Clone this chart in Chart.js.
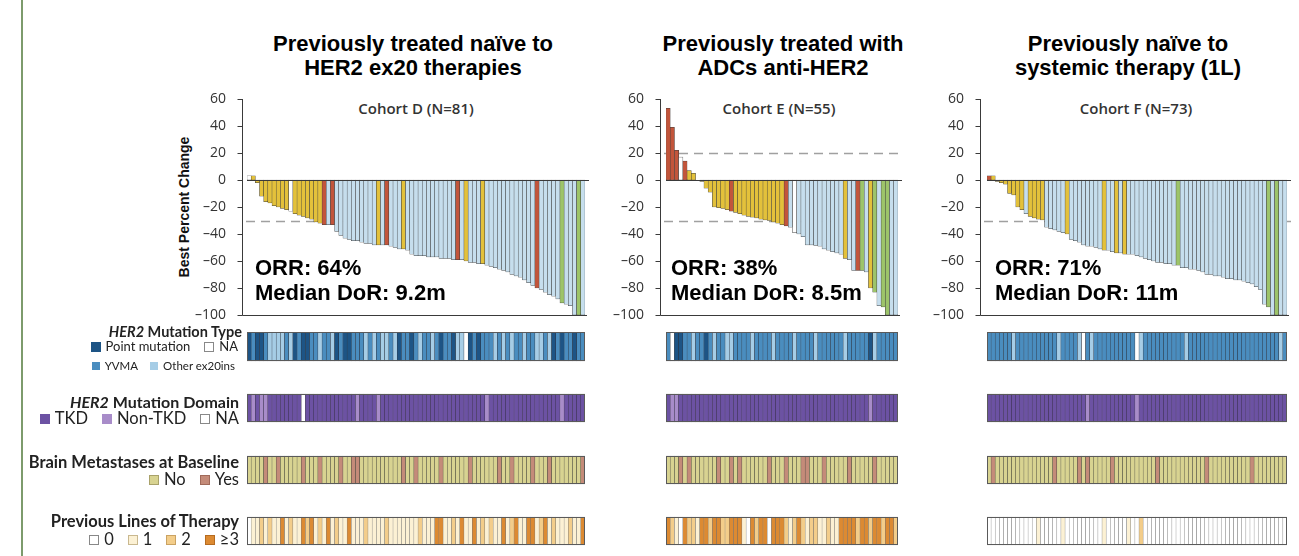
<!DOCTYPE html>
<html>
<head>
<meta charset="utf-8">
<script src="https://cdn.jsdelivr.net/npm/chart.js@4.4.1/dist/chart.umd.min.js"></script>
<style>
  html, body { margin: 0; padding: 0; background: #fff; }
  body { width: 1299px; height: 556px; position: relative; overflow: hidden; font-family: "Liberation Sans", Arial, sans-serif; }
  .abs { position: absolute; }
  canvas { position: absolute; }
  .frame { left: 21px; top: 0; width: 1.5px; height: 556px; background: #7d9b6c; }
  .title { font-weight: bold; font-size: 22px; line-height: 24px; text-align: center; width: 420px; color: #000; white-space: nowrap; }
  .cohort { font-family: "Open Sans", Lato, sans-serif; font-weight: 600; font-size: 15px; line-height: 18px; width: 200px; text-align: center; color: #333; }
  .orr { font-weight: bold; font-size: 22px; line-height: 25px; color: #000; white-space: nowrap; }
  .ytitle { font-weight: bold; font-size: 14px; width: 200px; text-align: center; transform: rotate(-90deg); color: #111; white-space: nowrap; }
  .leg { font-family: Lato, "Open Sans", sans-serif; color: #222; white-space: nowrap; text-align: right; }
  .leg b { font-weight: bold; }
  .sw { display: inline-block; width: 10px; height: 10px; border: 1px solid #888; vertical-align: middle; margin: 0 5px 2px 14px; box-sizing: border-box; }
  .sm .sw { width: 8px; height: 8px; margin: 0 5px 2px 12px; }
</style>
</head>
<body>
<div class="abs frame"></div>

<!-- panel titles -->
<div class="abs title" style="left:203px; top:32px;">Previously treated naïve to<br>HER2 ex20 therapies</div>
<div class="abs title" style="left:573px; top:32px;">Previously treated with<br>ADCs anti-HER2</div>
<div class="abs title" style="left:918px; top:32px;">Previously naïve to<br>systemic therapy (1L)</div>

<div class="abs cohort" style="left:316px; top:99px;">Cohort D (N=81)</div>
<div class="abs cohort" style="left:679px; top:99px;">Cohort E (N=55)</div>
<div class="abs cohort" style="left:1036px; top:99px;">Cohort F (N=73)</div>

<div class="abs ytitle" style="left:84px; top:199px;">Best Percent Change</div>

<canvas id="wfD"></canvas>
<canvas id="wfE"></canvas>
<canvas id="wfF"></canvas>
<canvas id="hmD"></canvas>
<canvas id="hmE"></canvas>
<canvas id="hmF"></canvas>

<div class="abs orr" style="left:255px; top:255px;">ORR: 64%<br>Median DoR: 9.2m</div>
<div class="abs orr" style="left:671px; top:255px;">ORR: 38%<br>Median DoR: 8.5m</div>
<div class="abs orr" style="left:995px; top:255px;">ORR: 71%<br>Median DoR: 11m</div>

<!-- row legends -->
<div class="abs leg" style="right:1057px; top:323px; font-size:14.5px; line-height:17px;"><b><i>HER2</i> Mutation Type</b></div>
<div class="abs leg" style="right:1061px; top:338px; font-size:13px; line-height:16px;"><span class="sw" style="background:#1d5485;border-color:#1d5485"></span>Point mutation<span class="sw" style="background:#fff"></span>NA</div>
<div class="abs leg sm" style="right:1064px; top:358px; font-size:11.5px; line-height:15px;"><span class="sw" style="background:#4a8dbf;border-color:#4a8dbf"></span>YVMA<span class="sw" style="background:#a6cde6;border-color:#a6cde6"></span>Other ex20ins</div>

<div class="abs leg" style="right:1060px; top:392px; font-size:16px; line-height:19px;"><b><i>HER2</i> Mutation Domain</b></div>
<div class="abs leg" style="right:1060px; top:409px; font-size:16.5px; line-height:19px;"><span class="sw" style="background:#6c52a3;border-color:#6c52a3"></span>TKD<span class="sw" style="background:#a88cc9;border-color:#a88cc9"></span>Non-TKD<span class="sw" style="background:#fff"></span>NA</div>

<div class="abs leg" style="right:1060px; top:453px; font-size:16.5px; line-height:19px;"><b>Brain Metastases at Baseline</b></div>
<div class="abs leg" style="right:1060px; top:470px; font-size:16.5px; line-height:19px;"><span class="sw" style="background:#d8d391;border-color:#a9a26a"></span>No<span class="sw" style="background:#c48b79;border-color:#a06a5a"></span>Yes</div>

<div class="abs leg" style="right:1060px; top:512px; font-size:16.5px; line-height:19px;"><b>Previous Lines of Therapy</b></div>
<div class="abs leg" style="right:1060px; top:530px; font-size:16.5px; line-height:19px;"><span class="sw" style="background:#fff"></span>0<span class="sw" style="background:#fcf1d4;border-color:#c9b88f"></span>1<span class="sw" style="background:#f3cd8a;border-color:#caa262"></span>2<span class="sw" style="background:#dc8a32;border-color:#b56b20"></span>≥3</div>

<script>
// ---- best percent change per patient, sorted as plotted ----
const changeD = [3, 3, -2, -12, -16, -17, -19, -20, -21, -22,
  -23, -25, -26, -27, -28, -29, -31, -32, -33, -33,
  -33, -38, -41, -43, -44, -45, -45, -46, -47, -47,
  -48, -48, -48, -48, -49, -50, -51, -51, -52, -55,
  -56, -56, -56, -57, -57, -57, -58, -58, -58, -59,
  -59, -59, -60, -61, -61, -62, -62, -63, -64, -65,
  -66, -67, -68, -70, -71, -72, -74, -76, -78, -80,
  -81, -83, -85, -86, -88, -91, -92, -93, -100, -100,
  -100];
const changeE = [53, 39, 22, 17, 14, 7, 5, 0, -1, -6,
  -9, -20, -20.5, -21, -22, -23, -24, -25, -26, -27,
  -27.5, -28, -29, -29.5, -30, -31, -32, -33, -34, -35,
  -39, -40, -42, -48, -48, -48.5, -49, -51, -52, -53,
  -54, -55, -58, -59, -67, -67, -67, -68, -80, -83,
  -93, -94, -100, -100, -100];
const changeF = [3, 3, -1, -2, -3, -10, -11, -20, -22, -25,
  -27, -28, -29, -29.5, -35, -36, -37, -38, -39, -40,
  -44, -45, -46, -48, -49, -49, -50, -51, -52, -52,
  -53, -54, -54, -55, -55, -55, -56, -57, -58, -59,
  -60, -61, -61, -62, -62, -63, -63, -65, -65, -66,
  -66, -67, -68, -70, -70, -71, -71, -72, -73, -73,
  -74, -74, -75, -76, -77, -79, -81, -92, -94, -100,
  -100, -100, -100];

// ---- bar group per patient (W, Y, R, B, G) ----
const groupD = ["WYYYYYYYYY", "WYYYYYYYRB", "RBBBBBBBBB", "BYBRBBBYBB", "BBBBBBBBBB",
  "RBYBBBYBBB", "BBBBBBBBBR", "BBBBBGBBBG", "B"].join("");
const groupE = ["RRRWRYYYYY", "YYYYYRYYYY", "YYYYYYYYRB", "WBBBBBBBBB", "BBYBBRGBYG", "BGGBB"].join("");
const groupF = ["RYYYYYYYYB", "YYYYBBBBBY", "BBBBBBBBYB", "BYBYBBBBBB", "BBBBBBGBBB",
  "BBBBBBBBBB", "BBBBBBBBGB", "GBB"].join("");

// ---- HER2 mutation type: P point mutation, Y YVMA, O other ex20ins, N NA ----
const mutTypeD = ["PYPPYOO", "OOYO", "PYPPY", "YOYYO", "PYPPY", "YYOY", "OYOOYO", "PYYPY", "OYYOY",
  "PYYPOO", "N", "PYPYY", "YOYOY", "OYYOY", "YOOYO", "PYPY", "YPYY"].join("");
const mutTypeE = ["YNPPYYOYYP", "YOYYOOYYYY", "OYYYYOYYYY", "OYYYYOYYYY", "YYOYYYYYPO", "YYYYY"].join("");
const mutTypeF = ["YYYYYYOYYY", "YYYYYYYOYY", "YYONYOYYYY", "YYYYYYNOYY", "YYYYYYYYOY",
  "YYYYYYYYYY", "YYYYYYYYYY", "YOY"].join("");

// ---- HER2 mutation domain: T TKD, K non-TKD, N NA ----
const domainD = ["TKTKKTTTTT", "TTTNTTTTTT", "TTTTTTKTTT", "TKTTTTTTTT", "TTTTTTTTTT",
  "TTTTTTTKTT", "TTTTTTTTTT", "TTTTTKTTTT", "T"].join("");
const domainE = ["TKKTTTTTTT", "TTTTTTTTTT", "TTTTTTTTTT", "TTTTTTTTTT", "TTTTTTTTKT", "TTTTT"].join("");
const domainF = ["TTTTTTTTTT", "TTTTTTTTTT", "TTTTKTTTTT", "TTTTTTKTTT", "TTTTTTTTTT",
  "TTTTTTTTTT", "TTTTTTTTTT", "TTT"].join("");

// ---- brain metastases at baseline: N no, Y yes ----
const brainD = ["NNNNYNNYNN", "NNNYNNNYNN", "NNYNNYYNNN", "NNNNNNNYNN", "YNNNNNYNNN",
  "NNNYNNNNNN", "YNNYNNNNYN", "NNYNNNNNNN", "Y"].join("");
const brainE = ["NNNYNYNNNN", "NNYNNYNYNN", "NNNNYNNNYN", "NNYYNNNYNN", "NNNYNNNNNY", "NNNNN"].join("");
const brainF = ["NYNNNNNNNN", "NNNNNNYNNN", "NNYNYNNNNN", "YNNNNNNNNN", "NYNNNNNNNN",
  "NNNYNNNNNN", "NNNNYNNNNN", "NNN"].join("");

// ---- previous lines of therapy: 0, 1, 2, 3 (≥3) ----
const linesD = ["0112121131", "2113231213", "1211311121", "1112111111", "1211133112",
  "1311312121", "1312311331", "2312111211", "3"].join("");
const linesE = ["3210322133", "2332233310", "3233033321", "2321221121", "1333323323", "32332"].join("");
const linesF = ["0000000000", "0010000010", "0000000010", "0000100200", "0000000000",
  "0000000000", "0000000000", "000"].join("");

const yTicks = { min: -100, max: 60, step: 20 };

// ---- colours ----
const BAR_COLORS = { W: "#ffffff", Y: "#e3c13b", R: "#c2553b", B: "#c6deed", G: "#9dc46a" };
const MUT_COLORS = { P: "#1d5485", Y: "#4a8dbf", O: "#a6cde6", N: "#ffffff" };
const DOM_COLORS = { T: "#6c52a3", K: "#a88cc9", N: "#ffffff" };
const BRAIN_COLORS = { N: "#d8d391", Y: "#c48b79" };
const LINE_COLORS = { "0": "#ffffff", "1": "#fcf1d4", "2": "#f3cd8a", "3": "#dc8a32" };

const FONT_TICK = { family: "'Open Sans', Lato, sans-serif", size: 14 };
// plot area spans 99..315 px; the canvas is taller so that tick-label room never squeezes it
const PLOT_AREA_TOP = 99, PLOT_AREA_BOTTOM = 315, VPAD = 28;
const AXIS_W = 55, PAD_R = 12;

// dashed reference lines behind the bars; axis, ticks, zero line on top
const waterfallDecor = {
  id: "waterfallDecor",
  beforeDatasetsDraw(chart, args, opts) {
    const { ctx, chartArea: a, scales: { y } } = chart;
    ctx.save();
    ctx.strokeStyle = "#a0a0a0";
    ctx.lineWidth = 1.4;
    ctx.setLineDash([9, 6]);
    for (const v of opts.refs) {
      const py = Math.round(y.getPixelForValue(v)) + 0.5;
      ctx.beginPath();
      ctx.moveTo(a.left - opts.gap + 4, py);
      ctx.lineTo(a.right + 4, py);
      ctx.stroke();
    }
    ctx.restore();
  },
  afterDatasetsDraw(chart, args, opts) {
    const { ctx, chartArea: a, scales: { y } } = chart;
    const ax = Math.round(a.left - opts.gap) + 0.5;
    ctx.save();
    ctx.strokeStyle = "#3a3a3a";
    ctx.lineWidth = 1;
    // zero line
    const z = Math.round(y.getPixelForValue(0)) + 0.5;
    ctx.beginPath(); ctx.moveTo(a.left, z); ctx.lineTo(a.right + 4, z); ctx.stroke();
    // bottom line
    const b = Math.round(y.getPixelForValue(yTicks.min)) + 0.5;
    ctx.beginPath(); ctx.moveTo(ax, b); ctx.lineTo(a.right + 2, b); ctx.stroke();
    // y axis and tick marks
    ctx.beginPath(); ctx.moveTo(ax, Math.round(y.getPixelForValue(yTicks.max))); ctx.lineTo(ax, b); ctx.stroke();
    for (const t of y.ticks) {
      const py = Math.round(y.getPixelForValue(t.value)) + 0.5;
      ctx.beginPath(); ctx.moveTo(ax - 5, py); ctx.lineTo(ax, py); ctx.stroke();
    }
    ctx.restore();
  }
};

function drawWaterfall(id, values, groups, areaLeft, areaRight, gap, refs) {
  const cv = document.getElementById(id);
  const left = areaLeft - AXIS_W;
  const width = areaRight + PAD_R - left;
  const height = PLOT_AREA_BOTTOM - PLOT_AREA_TOP + 2 * VPAD;
  cv.width = width; cv.height = height;
  cv.style.left = left + "px"; cv.style.top = (PLOT_AREA_TOP - VPAD) + "px";
  new Chart(cv, {
    type: "bar",
    data: {
      labels: values.map((_, i) => i + 1),
      datasets: [{
        data: values,
        backgroundColor: values.map((_, i) => BAR_COLORS[groups[i]]),
        borderColor: "#3c3c3c",
        borderWidth: 0.5,
        borderSkipped: false,
        barPercentage: 1,
        categoryPercentage: 1
      }]
    },
    options: {
      responsive: false,
      animation: false,
      devicePixelRatio: 1,
      layout: { padding: { top: VPAD, bottom: VPAD, left: 0, right: PAD_R } },
      plugins: {
        legend: { display: false },
        tooltip: { enabled: false },
        waterfallDecor: { refs, gap }
      },
      scales: {
        x: { display: false, offset: true },
        y: {
          min: yTicks.min, max: yTicks.max,
          afterFit(s) { s.width = AXIS_W; },
          border: { display: false },
          grid: { display: false },
          ticks: {
            stepSize: yTicks.step,
            padding: gap + 8,
            color: "#333",
            font: FONT_TICK,
            callback: v => (v < 0 ? "\u2013" + Math.abs(v) : String(v))
          }
        }
      }
    },
    plugins: [waterfallDecor]
  });
}

// ---- heatmap rows under each waterfall ----
const HM_TOP = 332, HM_H = 214;
const ROW_SPANS = [[0, 29], [62, 90], [124, 152], [185, 213]];

const rowOutline = {
  id: "rowOutline",
  afterDatasetsDraw(chart) {
    const { ctx, chartArea: a, scales: { y } } = chart;
    ctx.save();
    ctx.strokeStyle = "#5a5a5a";
    ctx.lineWidth = 1;
    for (const [lo, hi] of ROW_SPANS) {
      const t = y.getPixelForValue(lo), b = y.getPixelForValue(hi);
      ctx.strokeRect(a.left + 0.5, Math.min(t, b) + 0.5, a.right - a.left - 1, Math.abs(b - t) - 1);
    }
    ctx.restore();
  }
};

function drawHeatmap(id, areaLeft, areaRight, rows) {
  const cv = document.getElementById(id);
  cv.width = areaRight - areaLeft; cv.height = HM_H;
  cv.style.left = areaLeft + "px"; cv.style.top = HM_TOP + "px";
  const n = rows[0].codes.length;
  new Chart(cv, {
    type: "bar",
    data: {
      labels: Array.from({ length: n }, (_, i) => i + 1),
      datasets: rows.map((r, k) => ({
        data: Array.from(r.codes).map(() => ROW_SPANS[k]),
        backgroundColor: Array.from(r.codes).map(c => r.colors[c]),
        borderColor: r.edge,
        borderWidth: 0.5,
        borderSkipped: false,
        barPercentage: 1,
        categoryPercentage: 1
      }))
    },
    options: {
      responsive: false,
      animation: false,
      devicePixelRatio: 1,
      layout: { padding: 0 },
      plugins: { legend: { display: false }, tooltip: { enabled: false } },
      scales: {
        x: { display: false, stacked: true, offset: true },
        y: { display: false, min: 0, max: HM_H, reverse: true }
      }
    },
    plugins: [rowOutline]
  });
}

const panels = [
  { wf: "wfD", hm: "hmD", vals: changeD, grp: groupD, l: 247, r: 585, gap: 5, refs: [-30],
    mut: mutTypeD, dom: domainD, brain: brainD, lines: linesD },
  { wf: "wfE", hm: "hmE", vals: changeE, grp: groupE, l: 666, r: 898, gap: 6, refs: [20, -30],
    mut: mutTypeE, dom: domainE, brain: brainE, lines: linesE },
  { wf: "wfF", hm: "hmF", vals: changeF, grp: groupF, l: 987, r: 1287, gap: 7, refs: [-30],
    mut: mutTypeF, dom: domainF, brain: brainF, lines: linesF }
];

for (const p of panels) {
  drawWaterfall(p.wf, p.vals, p.grp, p.l, p.r, p.gap, p.refs);
  drawHeatmap(p.hm, p.l, p.r, [
    { codes: p.mut, colors: MUT_COLORS, edge: "rgba(25,35,50,0.85)" },
    { codes: p.dom, colors: DOM_COLORS, edge: "rgba(35,25,55,0.8)" },
    { codes: p.brain, colors: BRAIN_COLORS, edge: "rgba(40,40,30,0.8)" },
    { codes: p.lines, colors: LINE_COLORS, edge: "rgba(60,60,60,0.6)" }
  ]);
}
</script>
</body>
</html>
